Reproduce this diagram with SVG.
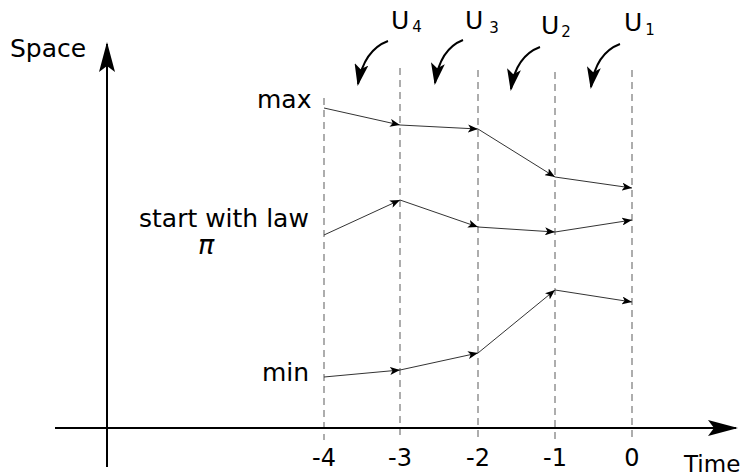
<svg xmlns="http://www.w3.org/2000/svg" width="745" height="476" viewBox="0 0 745 476">
<style>
text{font-family:"DejaVu Sans",sans-serif;fill:#000}
.lbl{font-size:25px}
.tick{font-size:24px;text-anchor:middle}
.u{font-size:25px}
.sub{font-size:15px}
.grid{stroke:#777;stroke-width:1.2;stroke-dasharray:7,5;fill:none}
.traj{stroke:#333;stroke-width:1;fill:none;marker-end:url(#sm)}
.axis{stroke:#000;stroke-width:2;fill:none}
.cur{stroke:#000;stroke-width:2;fill:none;marker-end:url(#big)}
</style>
<defs>
<marker id="sm" viewBox="0 0 10 8" refX="10" refY="4" markerWidth="10" markerHeight="8" markerUnits="userSpaceOnUse" orient="auto"><path d="M0,0 L10,4 L0,8 L2.5,4 Z" fill="#000"/></marker>
<marker id="big" viewBox="0 0 22 14" refX="20" refY="7" markerWidth="22" markerHeight="14" markerUnits="userSpaceOnUse" orient="auto"><path d="M0,0 L22,7 L0,14 L5,7 Z" fill="#000"/></marker>
<marker id="ax" viewBox="0 0 30 16" refX="28" refY="8" markerWidth="30" markerHeight="16" markerUnits="userSpaceOnUse" orient="auto"><path d="M0,0 L30,8 L0,16 L6,8 Z" fill="#000"/></marker>
</defs>
<g id="grid">
<line class="grid" x1="324" y1="98" x2="324" y2="440"/>
<line class="grid" x1="400" y1="68" x2="400" y2="440"/>
<line class="grid" x1="478" y1="70" x2="478" y2="440"/>
<line class="grid" x1="555" y1="72" x2="555" y2="440"/>
<line class="grid" x1="632" y1="70" x2="632" y2="440"/>
</g>
<g id="axes">
<line class="axis" x1="107" y1="467" x2="107" y2="44" marker-end="url(#ax)"/>
<line class="axis" x1="55" y1="428" x2="736" y2="428" marker-end="url(#ax)"/>
<text class="lbl" x="10" y="57">Space</text>
<text x="684" y="472" style="font-size:23px">Time</text>
</g>
<g id="ticks">
<text class="tick" x="324" y="466">-4</text>
<text class="tick" x="400" y="466">-3</text>
<text class="tick" x="478" y="466">-2</text>
<text class="tick" x="555" y="466">-1</text>
<text class="tick" x="632" y="466">0</text>
</g>
<g id="labels">
<text class="lbl" x="257" y="108">max</text>
<text class="lbl" x="139" y="227">start with law</text>
<text x="198" y="254" style="font-size:27px;font-style:italic">π</text>
<text class="lbl" x="262" y="381">min</text>
</g>
<g id="controls">
<text class="u" x="391" y="29">U<tspan class="sub" dx="3" dy="3">4</tspan></text>
<text class="u" x="465" y="29">U<tspan class="sub" dx="6" dy="4">3</tspan></text>
<text class="u" x="541" y="34">U<tspan class="sub" dx="2" dy="3">2</tspan></text>
<text class="u" x="624" y="31">U<tspan class="sub" dx="3" dy="4">1</tspan></text>
</g>
<g id="connectors">
<path class="cur" d="M388,41 Q364,50 358,84"/>
<path class="cur" d="M463,40 Q440,49 435,83"/>
<path class="cur" d="M540,47 Q516,56 511,89"/>
<path class="cur" d="M620,44 Q596,53 591,87"/>
<line class="traj" x1="324" y1="108" x2="400" y2="125"/>
<line class="traj" x1="400" y1="125" x2="478" y2="129"/>
<line class="traj" x1="478" y1="129" x2="555" y2="177"/>
<line class="traj" x1="555" y1="177" x2="632" y2="188"/>
<line class="traj" x1="324" y1="235" x2="400" y2="200"/>
<line class="traj" x1="400" y1="200" x2="478" y2="227"/>
<line class="traj" x1="478" y1="227" x2="555" y2="232"/>
<line class="traj" x1="555" y1="232" x2="632" y2="220"/>
<line class="traj" x1="324" y1="377" x2="400" y2="370"/>
<line class="traj" x1="400" y1="370" x2="478" y2="353"/>
<line class="traj" x1="478" y1="353" x2="555" y2="290"/>
<line class="traj" x1="555" y1="290" x2="632" y2="302"/>
</g>
</svg>
